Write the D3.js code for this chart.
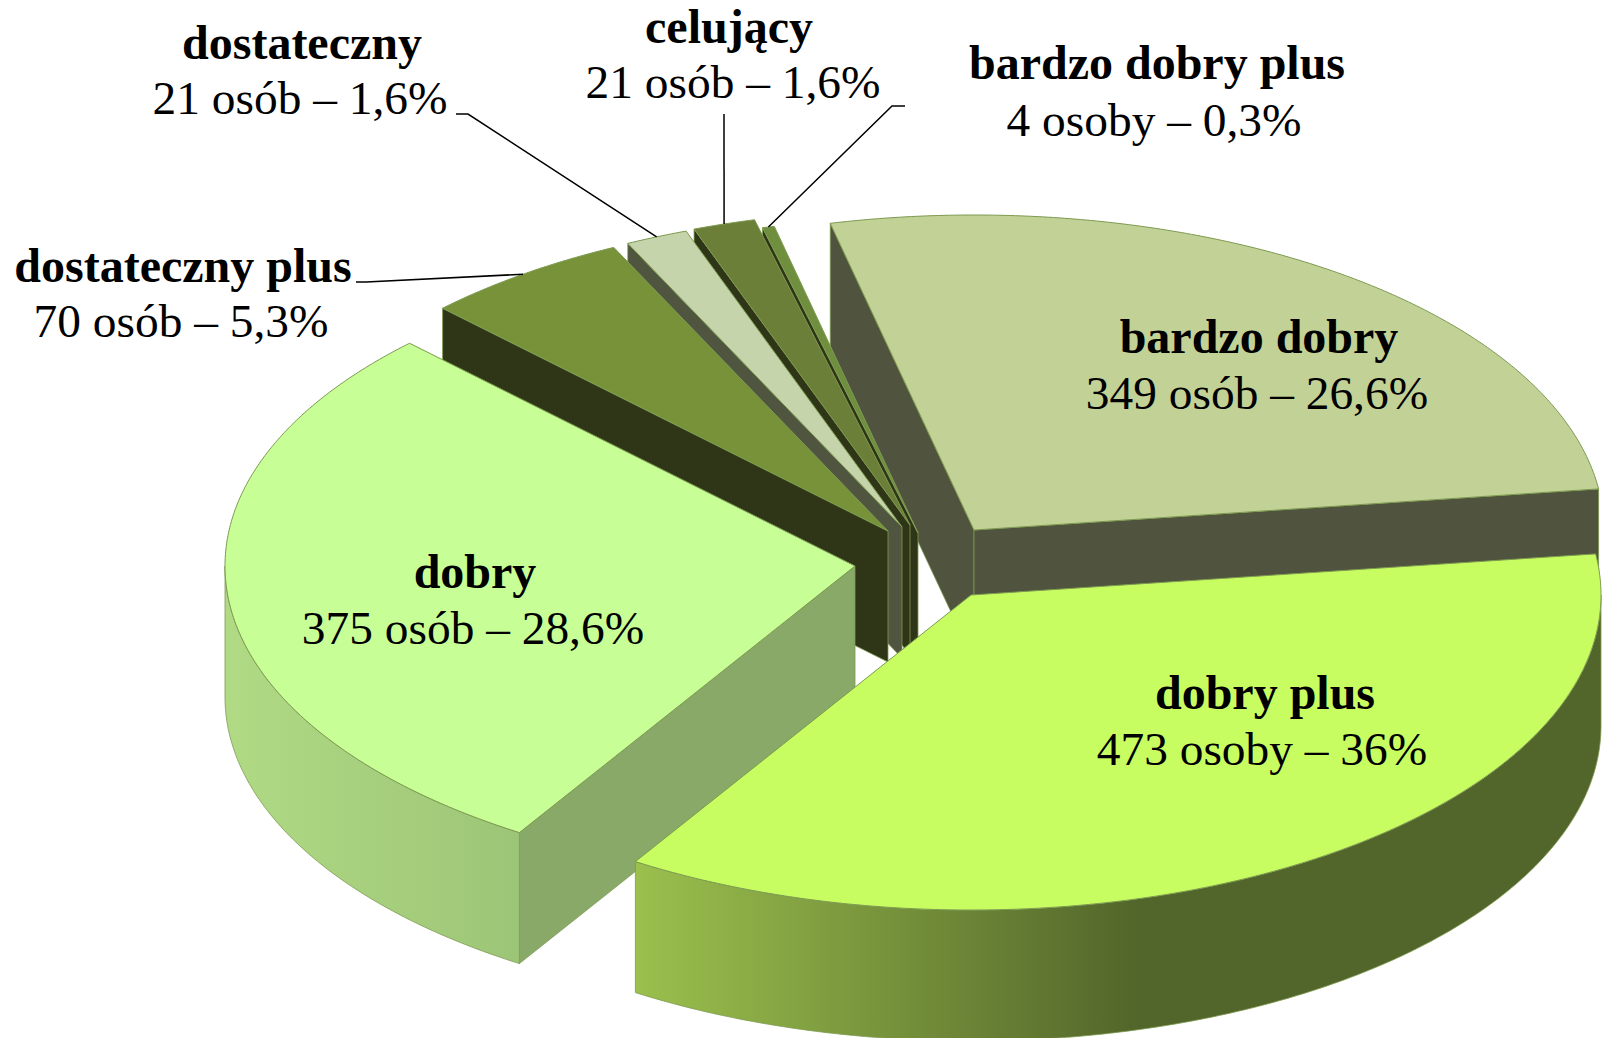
<!DOCTYPE html>
<html lang="pl">
<head>
<meta charset="utf-8">
<script src="https://cdnjs.cloudflare.com/ajax/libs/d3/7.8.5/d3.min.js"></script>
<style>
html,body{margin:0;padding:0;background:#fff;overflow:hidden}
svg{display:block}
text{font-family:"Liberation Serif",serif;font-size:47.4px;fill:#000;text-anchor:middle}
.n{font-weight:bold;font-size:48px}
</style>
</head>
<body>
<svg id="c" width="1604" height="1038"></svg>
<script>
// Data
const categories = ["dobry plus","dobry","dostateczny plus","dostateczny","celujący","bardzo dobry plus","bardzo dobry"];
const values = [473,375,70,21,21,4,349];
const valueLabels = ["473 osoby – 36%","375 osób – 28,6%","70 osób – 5,3%","21 osób – 1,6%","21 osób – 1,6%","4 osoby – 0,3%","349 osób – 26,6%"];

// Styles and layout, parallel to categories
const topColors  = ["#c8fd62","#c8fe96","#78923a","#c6d4ac","#6b7f38","#6f8f3e","#c2d297"];
const sideColors = ["#526528","#88a968","#2f3617","#4f553f","#2f3617","#2f3617","#50533d"];
const rimStops   = [["#9bc04d","#52652a"],["#b0da84","#9dc577"],["#2f3617","#2f3617"],["#4f553f","#4f553f"],["#2f3617","#2f3617"],["#2f3617","#2f3617"],["#50533d","#50533d"]];
const rimStopX   = [[636,1140],[225,519],[0,1604],[0,1604],[0,1604],[0,1604],[0,1604]];
const apexes     = [[971,595],[855,566],[888,531],[902,527],[910,525],[918,533],[974,530]];
const nameAnchors  = [[1265,709],[475,588],[183,282],[302,59],[729,43],[1157,79],[1259,353]];
const valueAnchors = [[1262,765],[473,644],[181,337],[300,114],[733,98],[1154,136],[1257,409]];
// leader: start and elbow of the line; the far end is computed from the slice
const leaders = {2:[[356,282],[366,282]],3:[[456,114],[468,114]],4:[[724,114],[724,114]],5:[[905,106],[892,106]]};

const startDeg = 82.5, RX = 630, RY = 315, DEPTH = 131;
const rad = Math.PI/180;

const sx = d3.scaleLinear().domain([-1,1]).range([-RX,RX]);
const sy = d3.scaleLinear().domain([-1,1]).range([RY,-RY]);

const arcs = d3.pie().sort(null).value(d=>d)
  .startAngle(startDeg*rad).endAngle((startDeg+360)*rad)(values);

const svg = d3.select("#c");
const defs = svg.append("defs");
rimStops.forEach((s,i)=>{
  const g = defs.append("linearGradient").attr("id","rim"+i)
    .attr("gradientUnits","userSpaceOnUse")
    .attr("x1",rimStopX[i][0]).attr("x2",rimStopX[i][1]).attr("y1",0).attr("y2",0);
  g.append("stop").attr("offset",0).attr("stop-color",s[0]);
  g.append("stop").attr("offset",1).attr("stop-color",s[1]);
});

const pt = (i,a,dz=0)=>[apexes[i][0]+sx(Math.sin(a)), apexes[i][1]+sy(Math.cos(a))+dz];
const rimPts = (i,a0,a1,dz=0)=>{
  const n = Math.max(2,Math.ceil((a1-a0)/(0.5*rad)));
  return d3.range(n+1).map(k=>pt(i,a0+(a1-a0)*k/n,dz));
};
const line = d3.line();
const STROKE = "#7d9a50";

function wall(i,a){
  const p = pt(i,a), q = pt(i,a,DEPTH), o = apexes[i];
  svg.append("path").attr("d",line([o,p,q,[o[0],o[1]+DEPTH]])+"Z")
    .attr("fill",sideColors[i]).attr("stroke",STROKE).attr("stroke-width",0.8);
}
function norm(a){ const t=2*Math.PI; return ((a%t)+t)%t; }

// back-to-front
d3.range(arcs.length).reverse().forEach(i=>{
  const d = arcs[i], a0=d.startAngle, a1=d.endAngle;
  // radial walls facing the viewer
  const s = norm(a0), e = norm(a1);
  if (s>Math.PI && s<2*Math.PI) wall(i,a0);
  if (e>0 && e<Math.PI) wall(i,a1);
  // outer rim (front half of the ellipse only)
  const lo = Math.max(a0,Math.PI/2), hi = Math.min(a1,1.5*Math.PI);
  if (hi>lo){
    const top = rimPts(i,lo,hi), bot = rimPts(i,lo,hi,DEPTH).reverse();
    svg.append("path").attr("d",line(top.concat(bot))+"Z")
      .attr("fill",`url(#rim${i})`).attr("stroke",STROKE).attr("stroke-width",0.8);
  }
  // top face
  svg.append("path").attr("d",line([apexes[i]].concat(rimPts(i,a0,a1)))+"Z")
    .attr("fill",topColors[i]).attr("stroke",STROKE).attr("stroke-width",1);
});

// leader lines
Object.keys(leaders).forEach(k=>{
  const i=+k, d=arcs[i], end=pt(i,(d.startAngle+d.endAngle)/2);
  svg.append("path").attr("d",line(leaders[k].concat([end])))
    .attr("fill","none").attr("stroke","#000").attr("stroke-width",1.5);
});

// labels
categories.forEach((c,i)=>{
  svg.append("text").attr("class","n").attr("x",nameAnchors[i][0]).attr("y",nameAnchors[i][1]).text(c);
  svg.append("text").attr("x",valueAnchors[i][0]).attr("y",valueAnchors[i][1]).text(valueLabels[i]);
});
</script>
</body>
</html>
